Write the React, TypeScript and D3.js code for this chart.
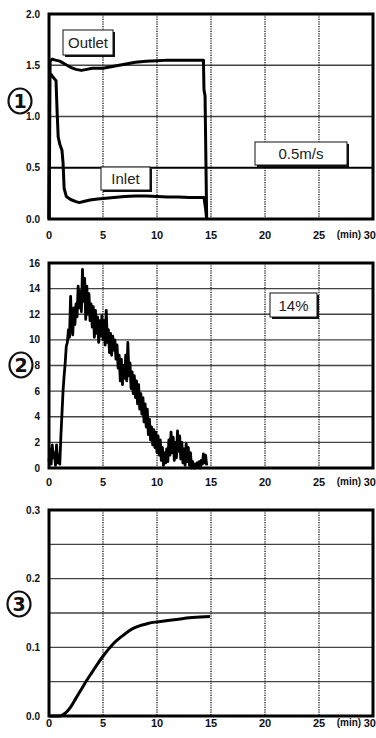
import React from 'react';
import * as d3 from 'd3';

const W = 376;
const H = 738;

// shared time axis (minutes)
const xTickValues = [0, 5, 10, 15, 20, 25, 30];
const xTickLabels = ['0', '5', '10', '15', '20', '25', '30'];
const timeUnit = '(min)';

// panel 1: velocity at outlet and inlet
const velocityGrid = [0, 0.5, 1.0, 1.5, 2.0];
const velocityLabels = ['0.0', '0.5', '1.0', '1.5', '2.0'];
const outletTime = [0, 0.05, 0.1, 0.3, 0.6, 1.0, 1.5, 2.0, 2.5, 3.0, 3.5, 4.0, 4.5, 5.0, 6.0, 7.0, 8.0, 9.0, 10.0, 11.0, 12.0, 13.0, 14.0, 14.3, 14.35, 14.45, 14.6];
const outletVelocity = [0, 0.6, 1.54, 1.56, 1.55, 1.54, 1.51, 1.48, 1.46, 1.45, 1.46, 1.47, 1.47, 1.47, 1.49, 1.51, 1.53, 1.54, 1.545, 1.55, 1.55, 1.55, 1.55, 1.55, 1.26, 1.2, 0];
const inletTime = [0, 0.05, 0.2, 0.4, 0.65, 0.75, 0.85, 1.0, 1.2, 1.3, 1.4, 1.6, 2.0, 2.5, 2.8, 3.2, 3.8, 4.5, 5.0, 6.0, 7.0, 8.0, 9.0, 10.0, 11.0, 12.0, 13.0, 14.0, 14.35, 14.5, 14.6];
const inletVelocity = [0, 1.38, 1.41, 1.38, 1.35, 1.05, 0.8, 0.73, 0.67, 0.55, 0.3, 0.22, 0.19, 0.17, 0.16, 0.17, 0.185, 0.195, 0.2, 0.21, 0.22, 0.225, 0.225, 0.22, 0.215, 0.215, 0.21, 0.21, 0.21, 0.1, 0];
const thresholdVelocity = 0.5;
const thresholdLabel = '0.5m/s';
const outletLabel = 'Outlet';
const inletLabel = 'Inlet';

// panel 2: concentration, sampled every 0.1 min
const concStep = 0.1;
const concValues = [
  0.5, 1.5, 0.3, 1.8, 0.8, 1.2, 0.2, 1.8, 0.4, 1.0,
  0.3, 2.5, 4.2, 6.0, 7.2, 8.2, 9.5, 9.8, 10.8, 10.2,
  13.4, 11.0, 10.4, 12.5, 11.2, 12.8, 11.8, 14.2, 12.5, 13.8,
  12.2, 15.5, 13.0, 14.8, 11.6, 14.2, 12.0, 13.6, 11.5, 12.8,
  11.0, 12.6, 10.2, 12.3, 10.5, 11.8, 9.8, 11.5, 10.3, 11.9,
  10.0, 11.5, 9.6, 12.3, 9.8, 10.8, 9.0, 10.5, 8.8, 10.3,
  9.2, 10.0, 8.5, 9.6, 7.8, 8.8, 6.8, 8.5, 6.5, 8.0,
  7.0, 8.8, 6.8, 9.8, 7.2, 8.2, 6.2, 7.5, 5.8, 7.2,
  5.5, 6.8, 5.0, 6.5, 4.6, 5.8, 4.2, 5.5, 3.6, 5.0,
  3.2, 4.6, 2.6, 3.8, 2.2, 3.2, 1.8, 3.0, 1.6, 2.8,
  1.2, 2.5, 1.0, 2.2, 0.6, 1.6, 0.2, 1.2, 0.4, 1.5,
  0.5, 2.2, 1.0, 2.8, 1.2, 2.4, 0.6, 2.0, 0.8, 2.9,
  1.3, 2.5, 0.7, 2.0, 0.4, 1.5, 0.2, 1.9, 0.5, 1.6,
  0.2, 1.2, 0.0, 0.5, 0.0, 0.3, 0.0, 0.4, 0.1, 0.5,
  0.0, 0.6, 0.3, 1.1, 0.4, 1.0, 0.2
];
const concGrid = [0, 2, 4, 6, 8, 10, 12, 14, 16];
const concLabels = ['0', '2', '4', '6', '8', '10', '12', '14', '16'];
const concLabel = '14%';

// panel 3: cumulative amount
const cumTime = [0, 0.5, 1.0, 1.5, 2.0, 2.5, 3.0, 3.5, 4.0, 4.5, 5.0, 5.5, 6.0, 6.5, 7.0, 7.5, 8.0, 8.5, 9.0, 9.5, 10.0, 11.0, 12.0, 13.0, 14.0, 14.9];
const cumValues = [0, 0, 0, 0.004, 0.013, 0.026, 0.039, 0.052, 0.064, 0.076, 0.087, 0.097, 0.106, 0.113, 0.119, 0.125, 0.129, 0.132, 0.134, 0.136, 0.137, 0.139, 0.141, 0.143, 0.144, 0.145];
const cumGrid = [0, 0.05, 0.1, 0.15, 0.2, 0.25, 0.3];
const cumTicks = [0, 0.1, 0.2, 0.3];
const cumLabels = ['0.0', '0.1', '0.2', '0.3'];

const LEFT = 49;
const RIGHT = 373;
const TICK_FONT = '"Liberation Sans Narrow", "Liberation Sans", Arial, sans-serif';
const BOX_FONT = '"Liberation Sans Narrow", "Liberation Sans", Arial, sans-serif';

const x = d3.scaleLinear().domain([0, 30]).range([LEFT, RIGHT]);

type Pt = [number, number];

function LabelBox({ x0, y0, w, h, text }: { x0: number; y0: number; w: number; h: number; text: string }) {
  return (
    <g>
      <rect x={x0 + 2} y={y0 + 2} width={w} height={h} fill="#111" />
      <rect x={x0} y={y0} width={w} height={h} fill="#fff" stroke="#111" strokeWidth={1} />
      <text x={x0 + w / 2} y={y0 + h / 2 + 5.5} textAnchor="middle" fontFamily={BOX_FONT} fontSize={15} fill="#222">{text}</text>
    </g>
  );
}

function Circled({ cx, cy, n }: { cx: number; cy: number; n: string }) {
  return (
    <g>
      <ellipse cx={cx} cy={cy} rx={11.5} ry={12.5} fill="#fff" stroke="#111" strokeWidth={2.2} />
      <text x={cx} y={cy + 7} textAnchor="middle" fontFamily="DejaVu Sans, sans-serif" fontWeight="bold" fontSize={19} fill="#111">{n}</text>
    </g>
  );
}

function Panel({
  top, bottom, domainMax, grid, ticks, labels, labelGap, children, heavy,
}: {
  top: number; bottom: number; domainMax: number; grid: number[]; ticks: number[]; labels: string[];
  labelGap: number; children: (y: d3.ScaleLinear<number, number>) => React.ReactNode; heavy?: number;
}) {
  const y = d3.scaleLinear().domain([0, domainMax]).range([bottom, top]);
  const last = xTickValues.length - 1;
  return (
    <g>
      {grid.map((g) => (
        <line key={'h' + g} x1={LEFT} x2={RIGHT} y1={y(g)} y2={y(g)}
          stroke={g === heavy ? '#000' : '#444'} strokeWidth={g === heavy ? 2.2 : 1.4} />
      ))}
      {xTickValues.slice(1, -1).map((t) => (
        <line key={'v' + t} x1={x(t)} x2={x(t)} y1={top} y2={bottom}
          stroke="#111" strokeWidth={1.3} strokeDasharray="1.2,1.2" />
      ))}
      {children(y)}
      <rect x={LEFT} y={top} width={RIGHT - LEFT} height={bottom - top} fill="none" stroke="#000" strokeWidth={3} />
      {ticks.map((t, i) => (
        <text key={'yl' + t} x={40} y={y(t) + 3.5} textAnchor="end" fontFamily={TICK_FONT}
          fontWeight="bold" fontSize={10} fill="#111">{labels[i]}</text>
      ))}
      {xTickValues.map((t, i) => (
        <text key={'xl' + t} x={i === last ? W : x(t)} y={bottom + labelGap}
          textAnchor={i === last ? 'end' : 'middle'} fontFamily={TICK_FONT}
          fontWeight="bold" fontSize={11} fill="#111">{xTickLabels[i]}</text>
      ))}
      <text x={349} y={bottom + labelGap - 1} textAnchor="middle" fontFamily={TICK_FONT}
        fontWeight="bold" fontSize={10} fill="#111">{timeUnit}</text>
    </g>
  );
}

export default function App() {
  const lineOf = (ys: d3.ScaleLinear<number, number>) =>
    d3.line<Pt>().x((d) => x(d[0])).y((d) => ys(d[1]));

  const outlet: Pt[] = outletTime.map((t, i) => [t, outletVelocity[i]]);
  const inlet: Pt[] = inletTime.map((t, i) => [t, inletVelocity[i]]);
  const conc: Pt[] = concValues.map((v, i) => [i * concStep, v]);
  const cum: Pt[] = cumTime.map((t, i) => [t, cumValues[i]]);

  return (
    <svg width={W} height={H} viewBox={`0 0 ${W} ${H}`}
      style={{ position: 'absolute', left: 0, top: 0, background: '#fff' }}>
      <rect width={W} height={H} fill="#fff" />

      <Panel top={14} bottom={219} domainMax={2} grid={velocityGrid} ticks={velocityGrid}
        labels={velocityLabels} labelGap={20} heavy={thresholdVelocity}>
        {(y) => (
          <g>
            <path d={lineOf(y)(outlet) || ''} fill="none" stroke="#000" strokeWidth={3} strokeLinejoin="round" />
            <path d={lineOf(y)(inlet) || ''} fill="none" stroke="#000" strokeWidth={3} strokeLinejoin="round" />
            <LabelBox x0={63} y0={30} w={50} h={25} text={outletLabel} />
            <LabelBox x0={101} y0={167} w={49} h={23} text={inletLabel} />
            <LabelBox x0={255} y0={142} w={92} h={23} text={thresholdLabel} />
          </g>
        )}
      </Panel>
      <Circled cx={20} cy={101} n="1" />

      <Panel top={263} bottom={468} domainMax={16} grid={concGrid} ticks={concGrid}
        labels={concLabels} labelGap={18}>
        {(y) => (
          <g>
            <path d={lineOf(y)(conc) || ''} fill="none" stroke="#000" strokeWidth={2.8} strokeLinejoin="round" />
            <LabelBox x0={270} y0={293} w={47} h={24} text={concLabel} />
          </g>
        )}
      </Panel>
      <Circled cx={21} cy={365} n="2" />

      <Panel top={510} bottom={716} domainMax={0.3} grid={cumGrid} ticks={cumTicks}
        labels={cumLabels} labelGap={11}>
        {(y) => (
          <path d={lineOf(y).curve(d3.curveMonotoneX)(cum) || ''} fill="none" stroke="#000" strokeWidth={3} />
        )}
      </Panel>
      <Circled cx={19} cy={604} n="3" />
    </svg>
  );
}
